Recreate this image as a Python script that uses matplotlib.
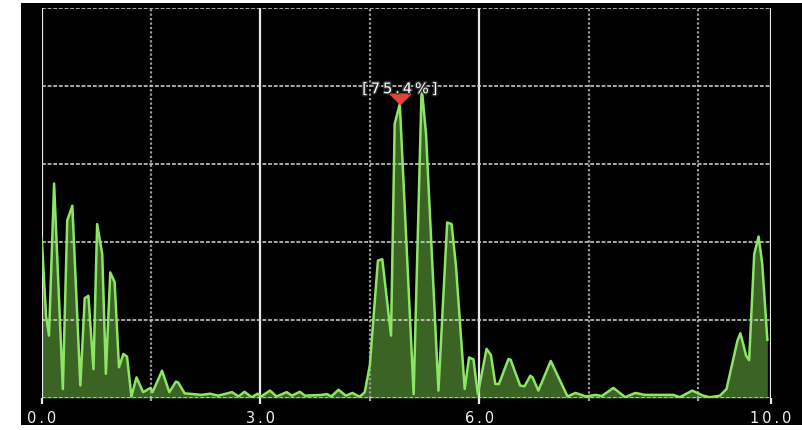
import numpy as np
import matplotlib
matplotlib.use("Agg")
import matplotlib.pyplot as plt
from matplotlib.path import Path
from matplotlib.patches import Rectangle
import matplotlib.patheffects as pe

# spectrum trace (frequency, level in %)
freqs = [0.00, 0.06, 0.10, 0.17, 0.29, 0.35, 0.42, 0.53, 0.59, 0.64,
         0.71, 0.76, 0.83, 0.88, 0.94, 1.00, 1.06, 1.12, 1.17, 1.23,
         1.30, 1.39, 1.43, 1.49, 1.52, 1.65, 1.75, 1.84, 1.87, 1.96,
         2.19, 2.31, 2.42, 2.61, 2.70, 2.78, 2.88, 2.96, 3.01, 3.13,
         3.22, 3.36, 3.43, 3.54, 3.61, 3.84, 3.91, 3.97, 4.07, 4.17,
         4.26, 4.36, 4.43, 4.50, 4.61, 4.67, 4.79, 4.84, 4.91, 5.10,
         5.21, 5.27, 5.44, 5.56, 5.62, 5.68, 5.80, 5.86, 5.92, 5.98,
         6.10, 6.16, 6.22, 6.27, 6.40, 6.43, 6.56, 6.62, 6.70, 6.73,
         6.81, 6.98, 7.21, 7.32, 7.46, 7.60, 7.68, 7.84, 8.00, 8.14,
         8.27, 8.66, 8.75, 8.92, 9.07, 9.16, 9.30, 9.39, 9.54, 9.58,
         9.66, 9.70, 9.77, 9.83, 9.88, 9.95]
levels = [41.0, 21.0, 16.0, 55.0, 2.3, 45.5, 49.3, 3.2, 25.6, 26.2,
          7.4, 44.6, 36.9, 6.2, 32.2, 29.7, 7.9, 11.3, 10.6, 0.4,
          5.3, 1.5, 1.9, 2.6, 1.5, 7.0, 1.5, 4.2, 4.0, 1.2,
          0.8, 1.1, 0.6, 1.5, 0.4, 1.6, 0.2, 1.1, 0.4, 1.9,
          0.4, 1.5, 0.6, 1.6, 0.6, 0.8, 1.0, 0.4, 2.1, 0.6,
          1.3, 0.3, 1.5, 8.5, 35.2, 35.6, 16.0, 70.3, 75.4, 1.0,
          79.7, 67.7, 1.9, 45.0, 44.6, 33.9, 2.3, 10.4, 9.9, 1.0,
          12.6, 11.0, 3.6, 3.6, 10.0, 9.8, 3.2, 3.0, 5.7, 5.3,
          1.9, 9.5, 0.4, 1.3, 0.4, 0.8, 0.5, 2.6, 0.2, 1.3,
          0.8, 0.8, 0.2, 1.9, 0.6, 0.2, 0.6, 2.3, 14.7, 16.6,
          10.8, 9.7, 36.9, 41.4, 34.4, 14.9]

# selected peak
marked_freq = 4.91

major_ticks = [0.0, 3.0, 6.0, 10.0]
major_labels = ["0.0", "3.0", "6.0", "10.0"]
minor_ticks = [1.5, 4.5, 7.5, 9.0]
level_ticks = [0, 20, 40, 60, 80, 100]


def spaced(s):
    "Letter-space a label with thin spaces"
    return "\u2009".join(s)


W, H = 802, 431
fig = plt.figure(figsize=(W / 100, H / 100), dpi=100, facecolor="white")

# black panel behind the plot
fig.patches.append(Rectangle((21 / W, 5 / H), 1 - 21 / W, 422 / H,
                             transform=fig.transFigure, facecolor="black",
                             edgecolor="none", zorder=-10))

ax = fig.add_axes([41.7 / W, 32 / H, 729.3 / W, 390 / H])
ax.set_facecolor("black")
ax.set_xlim(0, 10)
ax.set_ylim(0, 100)
for s in ax.spines.values():
    s.set_visible(False)

x = np.array(freqs)
y = np.array(levels)
ax.fill_between(x, 0, y, color="#3b6324", linewidth=0, zorder=1)
ax.plot(x, y, color="#8de566", linewidth=1.8, zorder=3)

# grid: solid major verticals, dotted minor verticals and horizontals
ax.set_xticks(major_ticks)
ax.set_xticklabels([spaced(t) for t in major_labels])
ax.set_xticks(minor_ticks, minor=True)
ax.set_yticks(level_ticks)
ax.set_yticklabels([])
ax.set_axisbelow(False)
ax.grid(True, which="major", axis="x", color="#e8e8e8", linewidth=1.6,
        linestyle="-", zorder=2)
ax.grid(True, which="minor", axis="x", color="#9c9c9c", linewidth=1.6,
        linestyle=(0, (1, 1)), zorder=2)
ax.grid(True, which="major", axis="y", color="#d8d8d8", linewidth=1.1,
        linestyle=(0, (2.5, 1.2)), zorder=2)
ax.tick_params(axis="x", which="major", direction="out", length=4.5,
               width=1.6, color="#e8e8e8", labelcolor="#f0f0f0",
               labelsize=10.5, pad=4.5)
ax.tick_params(axis="x", which="minor", direction="out", length=2.5,
               width=1.6, color="#9c9c9c")
ax.tick_params(axis="y", length=0)

# peak marker: downward triangle with its tip on the point
idx = freqs.index(marked_freq)
tri = Path([(-1, 1), (1, 1), (0, 0), (-1, 1)],
           [Path.MOVETO, Path.LINETO, Path.LINETO, Path.CLOSEPOLY])
ax.plot([freqs[idx]], [levels[idx]], marker=tri, markersize=15,
        color="#e0453c", linestyle="none", zorder=4, clip_on=False)
ax.annotate(spaced(f"[{levels[idx]:.1f}%]"), (freqs[idx], levels[idx]),
            xytext=(0, 11), textcoords="offset points", ha="center",
            va="center", color="white", fontsize=10.5, zorder=5,
            path_effects=[pe.withStroke(linewidth=2, foreground="#303030")])

fig.savefig("out.png", dpi=100, facecolor="white")
